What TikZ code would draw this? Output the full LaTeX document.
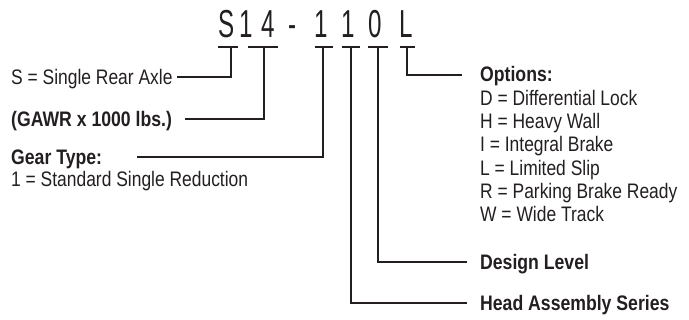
\documentclass[tikz,border=0pt]{standalone}
\usepackage{fontspec}
\setmainfont{Liberation Sans}[FakeStretch=0.83, BoldFeatures={FakeStretch=0.84}]
\newfontfamily\codefont{Liberation Sans}[FakeStretch=0.62]
\usetikzlibrary{positioning}
\definecolor{ink}{HTML}{231F20}

\begin{document}
\begin{tikzpicture}[
  x=1pt, y=-1pt,
  font=\fontsize{21}{23}\selectfont,
  code/.style={
    inner sep=0pt,
    anchor=base,
    font=\codefont\fontsize{39}{40}\selectfont,
    text=ink
  },
  label/.style={
    inner sep=0pt,
    anchor=base west,
    text=ink
  },
  head/.style={
    label,
    font=\bfseries\fontsize{21}{23}\selectfont
  },
  tick/.style={
    draw=ink,
    line width=2pt
  },
  lead/.style={
    draw=ink,
    line width=2pt
  }
]
\useasboundingbox (0,0) rectangle (689,320);

% Model code
\node[code] (cS) at (227,38) {S};
\node[code] (c1) at (246,38) {1};
\node[code] (c4) at (268,38) {4};
\node[code] (cDash) at (293,38) {-};
\node[code] (cHead) at (321,38) {1};
\node[code] (cDesign) at (348,38) {1};
\node[code] (cLevel) at (375,38) {0};
\node[code] (cOpt) at (406,38) {L};

% Brackets under the code
\foreach \name/\l/\m/\r in {axl/218/231/238, gawr/248/264/278, gear/315/323/333,
                            series/342/351/360, level/368/378/388, opt/400/407/415}{
  \draw[tick] (\l,47) -- (\r,47);
  \coordinate (\name Top) at (\m,47);
}

% Left side labels
\node[label] (axl) at (11,84.5) {S = Single Rear Axle};
\node[head] (gawr) at (11,126.5) {(GAWR x 1000 lbs.)};
\node[head] (gear) at (11,164.5) {Gear Type:};
\node[label] (gearStd) at (11,187) {1 = Standard Single Reduction};

% Right side labels
\node[head] (opt) at (480,82) {Options:};
\foreach \txt [count=\i] in {D = Differential Lock, H = Heavy Wall, I = Integral Brake,
                             L = Limited Slip, R = Parking Brake Ready, W = Wide Track}{
  \node[label] (opt\i) at (480,{82+23.3*\i}) {\txt};
}
\node[head] (level) at (480,269.5) {Design Level};
\node[head] (series) at (480,310.5) {Head Assembly Series};

% Lead line ends
\coordinate (axlEnd) at (177,77);
\coordinate (gawrEnd) at (185,119);
\coordinate (gearEnd) at (137,157);
\coordinate (optEnd) at (462,75);
\coordinate (levelEnd) at (467,262);
\coordinate (seriesEnd) at (467,303);

% Lead lines
\draw[lead] (axlTop) |- (axlEnd);
\draw[lead] (gawrTop) |- (gawrEnd);
\draw[lead] (gearTop) |- (gearEnd);
\draw[lead] (optTop) |- (optEnd);
\draw[lead] (levelTop) |- (levelEnd);
\draw[lead] (seriesTop) |- (seriesEnd);

\end{tikzpicture}
\end{document}
